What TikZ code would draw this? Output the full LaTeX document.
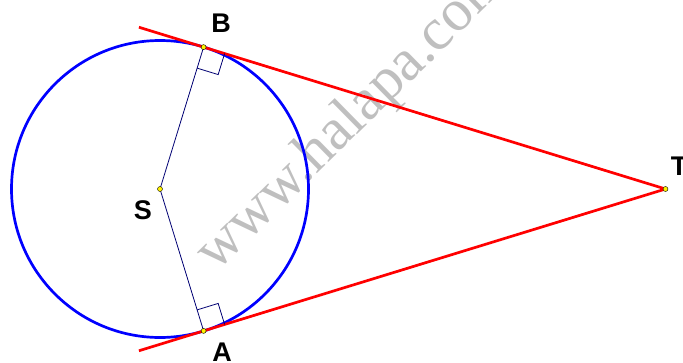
\documentclass[tikz,border=0pt]{standalone}
\usepackage{fontspec}
\setmainfont{Liberation Sans}
\newfontfamily\wmfont{Liberation Serif}
\usetikzlibrary{calc}
\begin{document}
\begin{tikzpicture}[x=1pt,y=-1pt,
  tangentline/.style={red, line width=2.7pt},
  circline/.style={blue, line width=2.7pt},
  radline/.style={blue!45!black, line width=0.8pt},
  rightmark/.style={blue!45!black, line width=0.8pt},
  dotmark/.style={circle, fill=yellow, draw=black, line width=0.4pt, inner sep=0pt, minimum size=5pt},
  lab/.style={font=\bfseries\fontsize{27}{27}\selectfont, inner sep=0pt},
  wm/.style={font=\wmfont\fontsize{59.5}{59.5}\selectfont, text=black!25, inner sep=0pt}]
\useasboundingbox (0,0) rectangle (683,362);
% watermark
\node[wm, anchor=base west, rotate=44.5] (wmark) at (216.6,272.6) {www.halapa.com};
% points
\coordinate (S) at (160,189);
\coordinate (T) at (665.5,189);
\coordinate (B) at (203.6,47.1);
\coordinate (A) at (203.6,330.9);
\coordinate (Bend) at ($(T)!1.14!(B)$);
\coordinate (Aend) at ($(T)!1.14!(A)$);
% circle
\draw[circline] (S) circle[radius=148.5pt];
% tangents
\draw[tangentline] (T) -- (Bend);
\draw[tangentline] (T) -- (Aend);
% radii
\draw[radline] (S) -- (B);
\draw[radline] (S) -- (A);
% right angle marks
\coordinate (BS) at ($(B)!22pt!(S)$);
\coordinate (BT) at ($(B)!22pt!(T)$);
\coordinate (AS) at ($(A)!22pt!(S)$);
\coordinate (AT) at ($(A)!22pt!(T)$);
\coordinate (Bc) at ($(BS)+(BT)-(B)$);
\coordinate (Ac) at ($(AS)+(AT)-(A)$);
\draw[rightmark] (BS) -- (Bc) -- (BT);
\draw[rightmark] (AS) -- (Ac) -- (AT);
% dots
\node[dotmark] (Sd) at (S) {};
\node[dotmark] (Td) at (T) {};
\node[dotmark] (Bd) at (B) {};
\node[dotmark] (Ad) at (A) {};
% labels
\node[lab] (Bl) at (221,23) {B};
\node[lab] (Al) at (222,352) {A};
\node[lab] (Sl) at (143,210) {S};
\node[lab] (Tl) at (679,166) {T};
\end{tikzpicture}
\end{document}
